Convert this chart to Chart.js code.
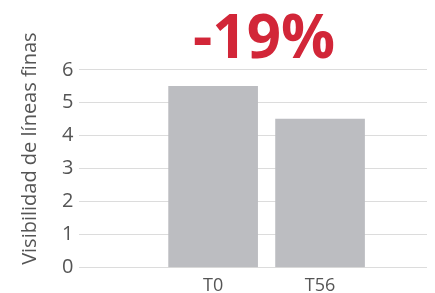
<!DOCTYPE html>
<html>
<head>
<meta charset="utf-8">
<script src="https://cdn.jsdelivr.net/npm/chart.js@4/dist/chart.umd.min.js"></script>
<style>
  html, body { margin: 0; padding: 0; background: #fff; }
  #wrap { width: 435px; height: 293px; }
</style>
</head>
<body>
<div id="wrap"><canvas id="barchart"></canvas></div>
<script>
var categories = ['T0', 'T56'];
var positions = [1, 2];
var values = [5.5, 4.5];
var change = '-19%';
var yTitle = 'Visibilidad de líneas finas';

var points = [];
for (var i = 0; i < values.length; i++) {
    points.push({ x: positions[i], y: values[i] });
}

var ctx = document.getElementById('barchart').getContext('2d');
var myChart = new Chart(ctx, {
    type: 'bar',
    data: {
        datasets: [{
            data: points,
            backgroundColor: '#bcbdc1',
            barThickness: 89
        }]
    },
    options: {
        responsive: true,
        maintainAspectRatio: false,
        animation: false,
        layout: { padding: { left: 18, right: 0, top: 0, bottom: -12 } },
        plugins: {
            legend: { display: false },
            tooltip: { enabled: false },
            title: {
                display: true,
                // leading space nudges the centred text a bit to the right
                text: ' \u200A' + change,
                color: '#d22638',
                fullSize: false,
                font: { family: 'Open Sans', size: 60, weight: 'bold', lineHeight: 0.83 },
                padding: { top: 16, bottom: 4 }
            }
        },
        scales: {
            x: {
                type: 'linear',
                offset: false,
                min: -0.25,
                max: 3,
                grid: { display: false, drawTicks: false },
                border: { display: false },
                ticks: {
                    stepSize: 1,
                    includeBounds: false,
                    autoSkip: false,
                    maxRotation: 0,
                    color: '#555',
                    font: { family: 'Open Sans', size: 18 },
                    padding: 8,
                    callback: function(v) {
                        var k = positions.indexOf(v);
                        return k >= 0 ? categories[k] : '';
                    }
                }
            },
            y: {
                min: 0,
                max: 6,
                grid: { color: '#dcdcdc', drawTicks: false, lineWidth: 1 },
                border: { display: false },
                ticks: {
                    stepSize: 1,
                    color: '#555',
                    padding: 6,
                    font: { family: 'Open Sans', size: 20 }
                },
                title: {
                    display: true,
                    // leading em spaces lift the rotated title towards the top
                    text: '\u2003\u2003' + yTitle,
                    color: '#555',
                    padding: { top: 0, bottom: 14 },
                    font: { family: 'Open Sans', size: 20 }
                }
            }
        }
    }
});
</script>
</body>
</html>
